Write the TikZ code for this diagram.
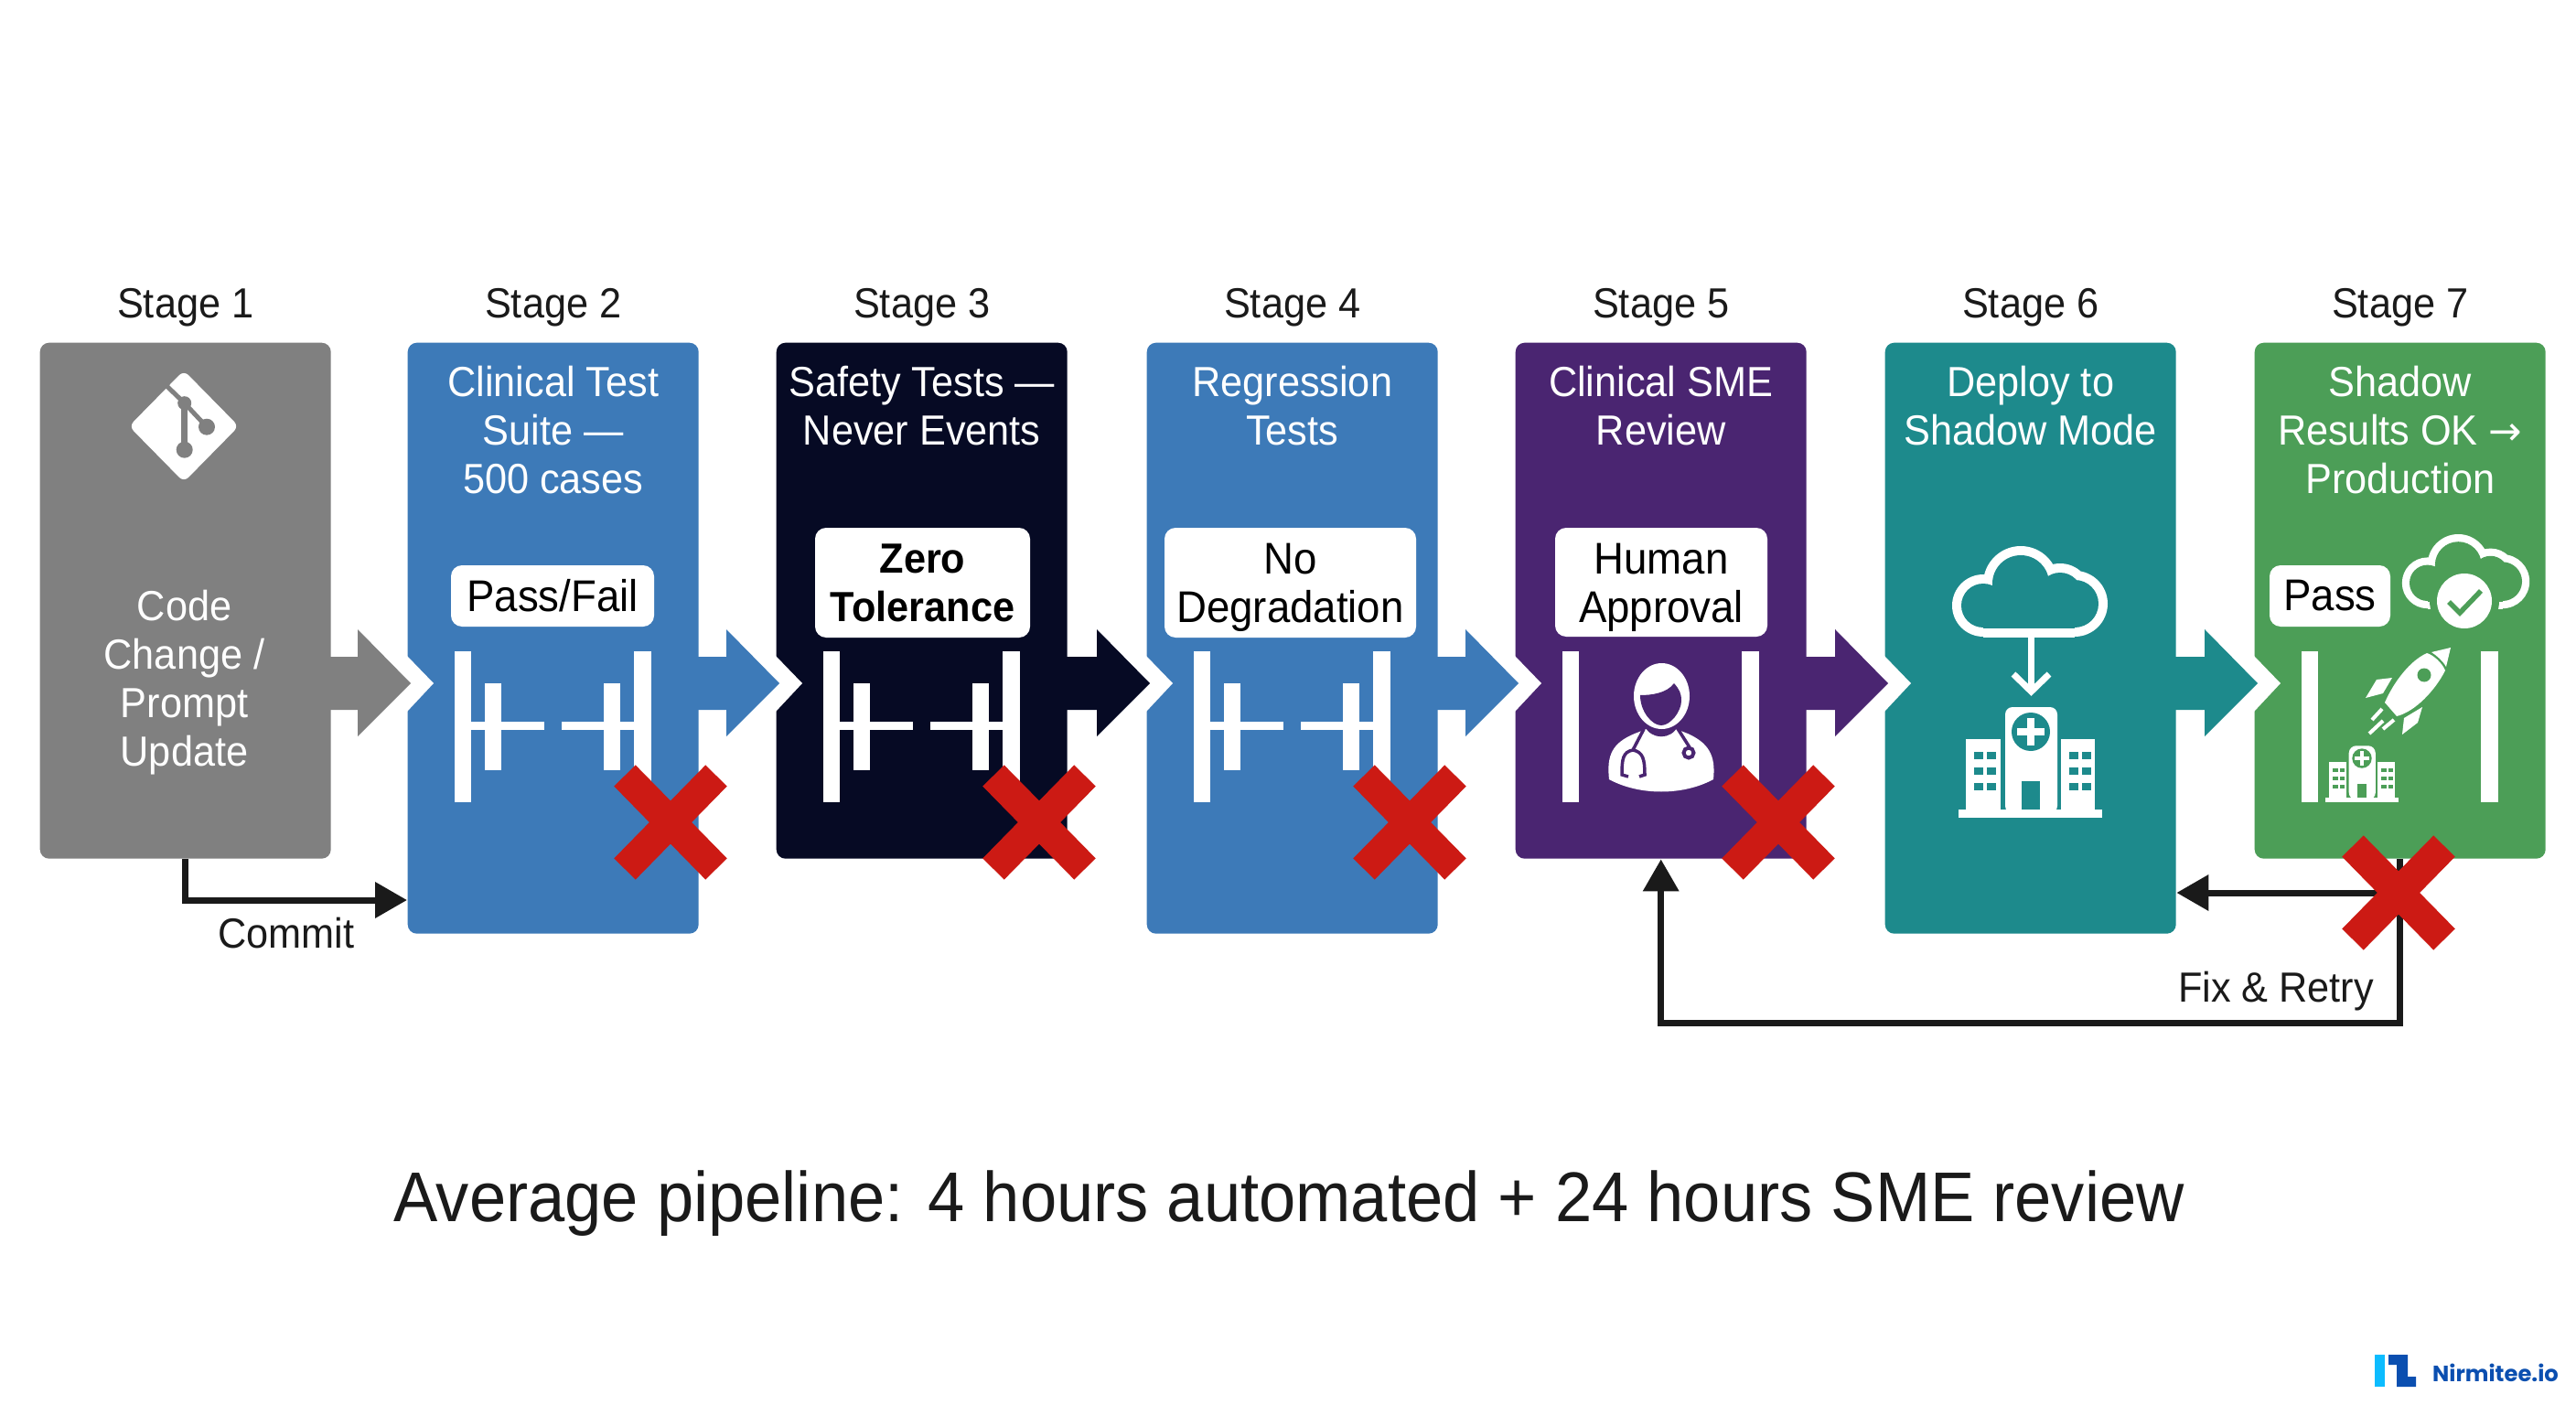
\documentclass[tikz,border=0pt]{standalone}
\usepackage{fontspec}
\setmainfont{Liberation Sans}[FakeStretch=.94]
\newfontfamily\logofont{Poppins}
\newfontfamily\arrowfont{DejaVu Sans}
\usetikzlibrary{positioning}
\usetikzlibrary{arrows.meta}

\definecolor{stagegrey}{HTML}{808080}
\definecolor{stageblue}{HTML}{3D7AB8}
\definecolor{stageblack}{HTML}{060A24}
\definecolor{stagepurple}{HTML}{4A2571}
\definecolor{stageteal}{HTML}{1D8A8C}
\definecolor{stagegreen}{HTML}{4C9E57}
\definecolor{crossred}{HTML}{CC1A14}
\definecolor{inkblack}{HTML}{1A1A1A}
\definecolor{logolight}{HTML}{0CBCFF}
\definecolor{logodark}{HTML}{0B4FB0}

\tikzset{
    stagebox/.style={anchor=north west,rounded corners=.1cm,inner sep=0,minimum width=3.18cm,minimum height=#1},
    stagebox/.default=5.64cm,
    stagelabel/.style={text=inkblack,inner sep=0,font=\fontsize{13.1}{15.1}\selectfont},
    boxtitle/.style={text=white,inner sep=0,align=center,font=\fontsize{13.1}{15.1}\selectfont},
    whitetag/.style={fill=white,rounded corners=.12cm,inner sep=0,align=center,text=black,font=\fontsize{13.8}{15.1}\selectfont},
    flowline/.style={draw=inkblack,line width=.07cm,-{Triangle[length=.35cm,width=.38cm]}},
    crossline/.style={draw=crossred,line width=.33cm},
    iconline/.style={draw=white,line width=.07cm},
}

\newcommand{\tagstrut}{\rule{0pt}{12.7pt}}
\newcommand{\sidebars}[1]{
    \begin{scope}[shift={(#1.north west)}]
        \fill[white] (.52,-3.38) rectangle (.70,-5.03);
        \fill[white] (2.48,-3.38) rectangle (2.67,-5.03);
    \end{scope}
}
\newcommand{\contactbars}[1]{
    \sidebars{#1}
    \begin{scope}[shift={(#1.north west)}]
        \fill[white] (.85,-3.73) rectangle (1.03,-4.68);
        \fill[white] (2.15,-3.73) rectangle (2.33,-4.68);
        \fill[white] (.70,-4.15) rectangle (1.50,-4.24);
        \fill[white] (1.69,-4.15) rectangle (2.48,-4.24);
    \end{scope}
}
\newcommand{\redcross}[1]{
    \draw[crossline] ([shift={(-.5,.51)}]#1) -- ([shift={(.5,-.51)}]#1);
    \draw[crossline] ([shift={(-.5,-.51)}]#1) -- ([shift={(.5,.51)}]#1);
}
\newcommand{\cloudicon}[3]{
    \begin{scope}[shift={(#1)},scale=#2]
        \fill[white] (-.10,.59) circle (.41) (-.51,.35) circle (.34) (.49,.37) circle (.36) (.33,.47) circle (.34);
        \fill[white] (-.51,0) rectangle (.49,.40);
        \fill[#3] (-.10,.59) circle (.31) (-.51,.35) circle (.24) (.49,.37) circle (.26) (.33,.47) circle (.24);
        \fill[#3] (-.51,.10) rectangle (.49,.40);
    \end{scope}
}
\newcommand{\hospitalicon}[3]{
    \begin{scope}[shift={(#1)},scale=#2]
        \fill[white] (-.79,0) rectangle (.78,.09);
        \fill[white,rounded corners=.08cm] (-.28,.05) -- (-.28,1.21) -- (.29,1.21) -- (.29,.05) -- cycle;
        \fill[white] (-.71,.05) rectangle (-.33,.86);
        \fill[white] (.33,.05) rectangle (.70,.86);
        \fill[#3] (0,.94) circle (.21);
        \fill[white] (-.04,.79) rectangle (.04,1.09);
        \fill[white] (-.15,.90) rectangle (.15,.98);
        \fill[#3] (-.10,.09) rectangle (.10,.40);
        \foreach \wx in {-.62,-.48,.42,.56}{
            \foreach \wy in {.30,.47,.64}{
                \fill[#3] (\wx,\wy) rectangle ++(.10,.08);
            }
        }
    \end{scope}
}

\begin{document}
\begin{tikzpicture}
    \useasboundingbox (0,0) rectangle (28.16,-15.36);
    \fill[white] (0,0) rectangle (28.16,-15.36);

    % stages
    \node[stagebox,fill=stagegrey] (s1) at (.43,-3.74) {};
    \node[stagebox=6.46cm,fill=stageblue] (s2) at (4.45,-3.74) {};
    \node[stagebox,fill=stageblack] (s3) at (8.48,-3.74) {};
    \node[stagebox=6.46cm,fill=stageblue] (s4) at (12.53,-3.74) {};
    \node[stagebox,fill=stagepurple] (s5) at (16.56,-3.74) {};
    \node[stagebox=6.46cm,fill=stageteal] (s6) at (20.60,-3.74) {};
    \node[stagebox,fill=stagegreen] (s7) at (24.64,-3.74) {};

    \foreach \n in {1,...,7}{
        \node[stagelabel,above=.165cm of s\n.north] (l\n) {Stage \n};
    }

    % block arrows
    \foreach \a/\b/\c in {s1/s2/stagegrey,s2/s3/stageblue,s3/s4/stageblack,s4/s5/stageblue,s5/s6/stagepurple,s6/s7/stageteal}{
        \fill[white] ([shift={(0,-3.43)}]\b.north west) -- ([shift={(.29,-3.73)}]\b.north west) -- ([shift={(0,-4.04)}]\b.north west) -- cycle;
        \fill[\c] ([shift={(-.03,-3.44)}]\a.north east) -- ([shift={(-.54,-3.44)}]\b.north west) -- ([shift={(-.54,-3.14)}]\b.north west)
            -- ([shift={(.04,-3.73)}]\b.north west) -- ([shift={(-.54,-4.31)}]\b.north west) -- ([shift={(-.54,-4.02)}]\b.north west) -- ([shift={(-.03,-4.02)}]\a.north east) -- cycle;
    }

    % texts in the boxes
    \node[boxtitle] (t1) at (2.015,-7.46) {Code\\Change /\\Prompt\\Update};
    \node[boxtitle,below=.25cm of s2.north] (t2) {Clinical Test\\Suite —\\500 cases};
    \node[boxtitle,below=.25cm of s3.north] (t3) {Safety Tests —\\Never Events};
    \node[boxtitle,below=.25cm of s4.north] (t4) {Regression\\Tests};
    \node[boxtitle,below=.25cm of s5.north] (t5) {Clinical SME\\Review};
    \node[boxtitle,below=.25cm of s6.north] (t6) {Deploy to\\Shadow Mode};
    \node[boxtitle,below=.25cm of s7.north] (t7) {Shadow\\Results OK {\arrowfont\fontsize{12.4}{15.1}\selectfont →}\\Production};

    \node[whitetag,minimum width=2.22cm,minimum height=.67cm] (g2) at (6.04,-6.515) {Pass/Fail};
    \node[whitetag,minimum width=2.35cm,minimum height=1.2cm,font=\fontsize{13.1}{15.1}\selectfont\bfseries] (g3) at (10.085,-6.37) {Zero\\Tolerance};
    \node[whitetag,minimum width=2.75cm,minimum height=1.2cm] (g4) at (14.105,-6.37) {\tagstrut No\\Degradation};
    \node[whitetag,minimum width=2.32cm,minimum height=1.19cm] (g5) at (18.16,-6.365) {\tagstrut Human\\Approval};
    \node[whitetag,minimum width=1.32cm,minimum height=.67cm] (g7) at (25.47,-6.515) {Pass};

    \contactbars{s2}
    \contactbars{s3}
    \contactbars{s4}
    \sidebars{s5}
    \sidebars{s7}

    % git icon
    \fill[white,rounded corners=.07cm] (2.01,-4.05) -- (2.61,-4.66) -- (2.01,-5.27) -- (1.41,-4.66) -- cycle;
    \draw[stagegrey,line width=.05cm] (1.76,-4.16) -- (2.017,-4.407);
    \draw[stagegrey,line width=.07cm] (2.017,-4.407) -- (2.017,-4.917);
    \draw[stagegrey,line width=.05cm] (2.017,-4.407) -- (2.26,-4.667);
    \fill[stagegrey] (2.017,-4.407) circle (.075) (2.017,-4.917) circle (.09) (2.26,-4.667) circle (.09);

    % doctor
    \fill[white] (17.59,-8.52) .. controls (17.56,-8.25) and (17.63,-8.12) .. (17.87,-8.02) -- (18.00,-7.97) -- (18.32,-7.97) -- (18.45,-8.02) .. controls (18.67,-8.12) and (18.76,-8.25) .. (18.73,-8.52) .. controls (18.40,-8.70) and (17.92,-8.70) .. cycle;
    \fill[stagepurple] (17.98,-7.94) .. controls (18.05,-8.09) and (18.27,-8.09) .. (18.34,-7.94) -- cycle;
    \fill[white] (18.165,-7.61) ellipse (.305 and .36);
    \fill[stagepurple] (17.93,-7.60) .. controls (18.05,-7.60) and (18.22,-7.58) .. (18.30,-7.47) .. controls (18.36,-7.54) and (18.38,-7.58) .. (18.38,-7.66) .. controls (18.38,-7.78) and (18.26,-7.93) .. (18.16,-7.93) .. controls (18.06,-7.93) and (17.93,-7.78) .. cycle;
    \draw[stagepurple,line width=.035cm] (17.97,-7.97) -- (17.85,-8.20) .. controls (17.74,-8.22) and (17.73,-8.30) .. (17.73,-8.47) -- (17.80,-8.49);
    \draw[stagepurple,line width=.035cm] (17.85,-8.20) .. controls (17.96,-8.22) and (17.98,-8.30) .. (17.98,-8.47) -- (17.92,-8.49);
    \draw[stagepurple,line width=.035cm] (18.33,-7.95) -- (18.47,-8.17);
    \draw[stagepurple,fill=white,line width=.04cm] (18.46,-8.23) circle (.055);

    % cloud going to hospital
    \cloudicon{22.19,-6.97}{1}{stageteal}
    \draw[iconline] (22.205,-6.97) -- (22.205,-7.54);
    \draw[iconline] (22.01,-7.37) -- (22.205,-7.56) -- (22.40,-7.37);
    \hospitalicon{22.20,-8.94}{1}{stageteal}

    % pass cloud
    \cloudicon{26.955,-6.66}{.82}{stagegreen}
    \fill[stagegreen] (26.94,-6.57) circle (.38);
    \fill[white] (26.94,-6.57) circle (.30);
    \draw[stagegreen,line width=.055cm] (26.77,-6.58) -- (26.89,-6.70) -- (27.12,-6.46);

    % rocket
    \fill[white] (26.58,-7.13) -- (26.79,-7.08) -- (26.74,-7.29) .. controls (26.70,-7.22) and (26.64,-7.17) .. cycle;
    \fill[white] (26.53,-7.14) .. controls (26.35,-7.22) and (26.17,-7.45) .. (26.07,-7.68) -- (26.20,-7.83) .. controls (26.40,-7.78) and (26.62,-7.55) .. (26.73,-7.33) .. controls (26.70,-7.25) and (26.60,-7.16) .. cycle;
    \fill[stagegreen] (26.50,-7.38) circle (.075);
    \fill[white] (25.86,-7.63) -- (25.98,-7.43) -- (26.15,-7.41) -- (26.05,-7.58) -- cycle;
    \fill[white] (26.26,-8.03) -- (26.28,-7.85) -- (26.48,-7.73) -- (26.43,-7.90) -- cycle;
    \draw[white,line width=.04cm] (25.93,-7.87) -- (26.04,-7.75);
    \draw[white,line width=.04cm] (25.90,-8.02) -- (26.05,-7.88);
    \draw[white,line width=.04cm] (26.05,-7.97) -- (26.17,-7.87);
    \hospitalicon{25.82,-8.77}{.51}{stagegreen}

    % connectors
    \coordinate (commitin) at (s2.west |- 0,-9.84);
    \coordinate (fixlow) at (s5.south |- 0,-11.18);
    \coordinate (x7) at ([shift={(1.58,-6.02)}]s7.north west);
    \draw[flowline] (s1.south) |- (commitin);
    \draw[flowline] (s7.south) |- (fixlow) -- (s5.south);
    \draw[flowline] (x7) -- (s6.east |- x7);
    \node[stagelabel] (commit) at (3.13,-10.20) {Commit};
    \node[stagelabel] (fix) at (24.88,-10.84) {Fix \& Retry};

    % crosses
    \coordinate (x2) at ([shift={(2.88,-5.25)}]s2.north west);
    \coordinate (x3) at ([shift={(2.88,-5.25)}]s3.north west);
    \coordinate (x4) at ([shift={(2.88,-5.25)}]s4.north west);
    \coordinate (x5) at ([shift={(2.88,-5.25)}]s5.north west);
    \redcross{x2}
    \redcross{x3}
    \redcross{x4}
    \redcross{x5}
    \redcross{x7}

    \node[text=inkblack,inner sep=0,font=\fontsize{21.9}{26}\selectfont] (caption) at (14.09,-13.16) {Average pipeline: 4 hours automated + 24 hours SME review};

    % logo
    \fill[logolight] (25.96,-14.81) rectangle (26.07,-15.16);
    \fill[logodark] (26.11,-14.81) -- (26.32,-14.81) -- (26.32,-15.05) -- (26.41,-15.05) -- (26.41,-15.16) -- (26.20,-15.16) -- (26.20,-14.92) -- (26.11,-14.92) -- cycle;
    \node[text=logodark,inner sep=0,font=\logofont\fontsize{6.9}{9}\selectfont\bfseries] (logo) at (27.28,-15.01) {Nirmitee.io};
\end{tikzpicture}
\end{document}
